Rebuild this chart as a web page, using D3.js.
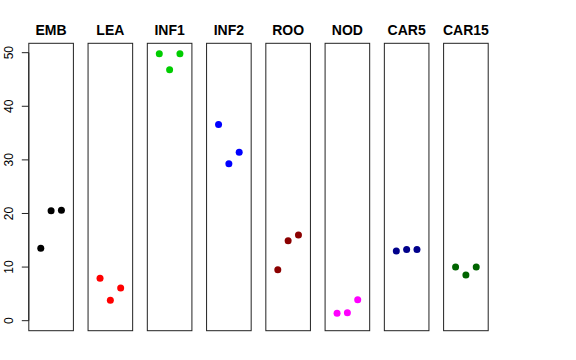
<!DOCTYPE html>
<html><head><meta charset="utf-8">
<script src="https://cdn.jsdelivr.net/npm/d3@7"></script>
<style>body{margin:0;background:#fff}svg{display:block}</style>
</head><body>
<svg id="chart" width="576" height="360"></svg>
<script>
const categories = ["EMB","LEA","INF1","INF2","ROO","NOD","CAR5","CAR15"];
const colors = ["#000000","#FF0000","#00CD00","#0000FF","#8B0000","#FF00FF","#00008B","#006400"];
const rep1 = [13.5, 7.9, 49.8, 36.6, 9.5, 1.4, 13.0, 10.0];
const rep2 = [20.5, 3.8, 46.8, 29.3, 14.9, 1.5, 13.3, 8.5];
const rep3 = [20.6, 6.1, 49.8, 31.4, 16.0, 3.9, 13.3, 10.0];
const yTicks = [0, 10, 20, 30, 40, 50];

const svg = d3.select("#chart");
const panel = d3.scaleBand().domain(categories).range([28.8, 488.2]).paddingInner(0.2474).paddingOuter(0);
const y = d3.scaleLinear().domain([-1.87, 51.75]).range([330.7, 43.3]);
const x = d3.scaleLinear().domain([-0.16, 4.16]).range([0, panel.bandwidth()]);

categories.forEach((c, i) => {
  const g = svg.append("g").attr("transform", `translate(${panel(c)},0)`);
  g.append("rect").attr("x", 0).attr("y", y.range()[1]).attr("width", panel.bandwidth())
    .attr("height", y.range()[0] - y.range()[1]).attr("fill", "none").attr("stroke", "#222").attr("stroke-width", 1);
  g.append("text").attr("x", panel.bandwidth() / 2).attr("y", 34.5).attr("text-anchor", "middle")
    .attr("font-family", "Liberation Sans, Arial, sans-serif").attr("font-weight", "bold").attr("font-size", 14)
    .text(c);
  const vals = [rep1[i], rep2[i], rep3[i]];
  g.selectAll("circle").data(vals).enter().append("circle")
    .attr("cx", (d, j) => x(j + 1)).attr("cy", d => y(d)).attr("r", 3.5).attr("fill", colors[i]);
});

const axis = d3.axisLeft(y).tickValues(yTicks).tickSize(7).tickPadding(0).tickFormat(d3.format("d"));
const ag = svg.append("g").attr("transform", `translate(${panel(categories[0])},0)`).call(axis);
ag.select(".domain").attr("d", `M0,${y(0)}V${y(50)}`).attr("stroke", "#222");
ag.selectAll(".tick line").attr("stroke", "#222");
ag.selectAll(".tick text").attr("font-family", "Liberation Sans, Arial, sans-serif").attr("font-size", 12)
  .attr("fill", "#000").attr("text-anchor", "middle")
  .attr("transform", "rotate(-90)").attr("x", d => -y(d)).attr("y", -16).attr("dy", 0);
ag.selectAll(".tick").attr("transform", null);
ag.selectAll(".tick line").attr("y1", d => y(d)).attr("y2", d => y(d)).attr("x2", -7);
</script>
</body></html>
